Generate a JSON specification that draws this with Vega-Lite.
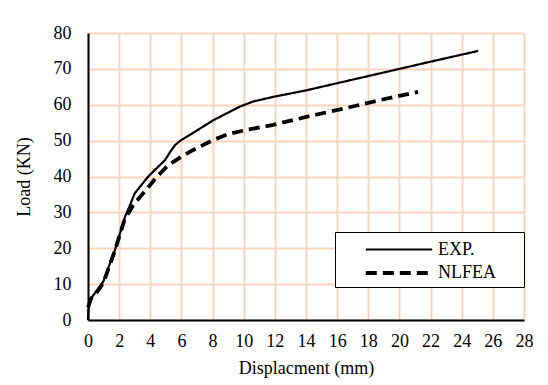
{
  "$schema": "https://vega.github.io/schema/vega-lite/v6.json",
  "width": 436,
  "height": 287,
  "autosize": "none",
  "padding": {"left": 88, "top": 33, "right": 24, "bottom": 65},
  "background": "white",
  "config": {
    "view": {"stroke": null},
    "font": "Liberation Serif, Times New Roman, serif",
    "axis": {"labelFont": "Liberation Serif, Times New Roman, serif", "titleFont": "Liberation Serif, Times New Roman, serif", "labelFontSize": 18, "titleFontSize": 18, "titleFontWeight": "normal", "labelColor": "black", "titleColor": "black"},
    "legend": {"labelFont": "Liberation Serif, Times New Roman, serif", "labelFontSize": 18, "labelColor": "black"}
  },
  "data": {"values": [
    {"d": 0, "load": 0, "s": "EXP."},
    {"d": 0.03, "load": 3, "s": "EXP."},
    {"d": 0.13, "load": 5.6, "s": "EXP."},
    {"d": 0.66, "load": 8.8, "s": "EXP."},
    {"d": 0.98, "load": 10.7, "s": "EXP."},
    {"d": 1.73, "load": 19.5, "s": "EXP."},
    {"d": 2.38, "load": 28.8, "s": "EXP."},
    {"d": 2.6, "load": 31, "s": "EXP."},
    {"d": 3.0, "load": 35.3, "s": "EXP."},
    {"d": 3.87, "load": 40, "s": "EXP."},
    {"d": 4.95, "load": 44.6, "s": "EXP."},
    {"d": 5.3, "load": 47, "s": "EXP."},
    {"d": 5.6, "load": 48.8, "s": "EXP."},
    {"d": 6.0, "load": 50.2, "s": "EXP."},
    {"d": 6.66, "load": 51.9, "s": "EXP."},
    {"d": 8.05, "load": 55.7, "s": "EXP."},
    {"d": 9.0, "load": 57.8, "s": "EXP."},
    {"d": 9.76, "load": 59.5, "s": "EXP."},
    {"d": 10.6, "load": 60.9, "s": "EXP."},
    {"d": 11.9, "load": 62.2, "s": "EXP."},
    {"d": 14, "load": 64, "s": "EXP."},
    {"d": 16, "load": 66, "s": "EXP."},
    {"d": 18, "load": 68, "s": "EXP."},
    {"d": 20.1, "load": 70.1, "s": "EXP."},
    {"d": 22.5, "load": 72.5, "s": "EXP."},
    {"d": 25.05, "load": 75, "s": "EXP."},
    {"d": 0, "load": 3.5, "s": "NLFEA"},
    {"d": 0.2, "load": 6, "s": "NLFEA"},
    {"d": 0.7, "load": 8.5, "s": "NLFEA"},
    {"d": 1.0, "load": 10.5, "s": "NLFEA"},
    {"d": 1.7, "load": 19, "s": "NLFEA"},
    {"d": 2.35, "load": 28, "s": "NLFEA"},
    {"d": 2.9, "load": 32, "s": "NLFEA"},
    {"d": 3.87, "load": 37, "s": "NLFEA"},
    {"d": 4.4, "load": 39.8, "s": "NLFEA"},
    {"d": 5.16, "load": 43.2, "s": "NLFEA"},
    {"d": 6.0, "load": 45.5, "s": "NLFEA"},
    {"d": 6.76, "load": 47.4, "s": "NLFEA"},
    {"d": 8.05, "load": 50.2, "s": "NLFEA"},
    {"d": 9.0, "load": 51.8, "s": "NLFEA"},
    {"d": 10.2, "load": 53, "s": "NLFEA"},
    {"d": 11.9, "load": 54.4, "s": "NLFEA"},
    {"d": 14.5, "load": 57.1, "s": "NLFEA"},
    {"d": 16.5, "load": 59, "s": "NLFEA"},
    {"d": 18.75, "load": 61.3, "s": "NLFEA"},
    {"d": 21.2, "load": 63.6, "s": "NLFEA"}
  ]},
  "mark": {"type": "line", "color": "black", "strokeCap": "butt"},
  "encoding": {
    "x": {"field": "d", "type": "quantitative", "scale": {"domain": [0, 28], "nice": false},
      "axis": {"title": "Displacment (mm)", "values": [0,2,4,6,8,10,12,14,16,18,20,22,24,26,28], "labelOverlap": false, "grid": true, "gridColor": "#F9D5BE", "gridWidth": 2, "domainColor": "black", "domainWidth": 2, "ticks": false, "labelPadding": 12, "titlePadding": 9, "labelFlush": false}},
    "y": {"field": "load", "type": "quantitative", "scale": {"domain": [0, 80], "nice": false},
      "axis": {"title": "Load (KN)", "values": [0,10,20,30,40,50,60,70,80], "labelOverlap": false, "grid": true, "gridColor": "#F9D5BE", "gridWidth": 2, "domainColor": "black", "domainWidth": 2, "ticks": false, "labelPadding": 17, "titlePadding": 20, "labelFlush": false}},
    "strokeDash": {"field": "s", "type": "nominal", "scale": {"domain": ["EXP.", "NLFEA"], "range": [[1, 0], [11, 6]]},
      "legend": {"title": null, "orient": "none", "legendX": 247, "legendY": 199, "strokeColor": "black", "padding": 5, "symbolType": "M-3,0H3", "symbolSize": 490, "symbolStrokeColor": "black", "symbolFillColor": "transparent", "symbolOffset": 46, "labelOffset": 26, "rowPadding": 1, "fillColor": "white", "labelExpr": "datum.label + '\u2003\u2005\u200b'", "labelLimit": 300}},
    "strokeWidth": {"field": "s", "type": "nominal", "scale": {"domain": ["EXP.", "NLFEA"], "range": [2.2, 3.8]}, "legend": null}
  }
}
